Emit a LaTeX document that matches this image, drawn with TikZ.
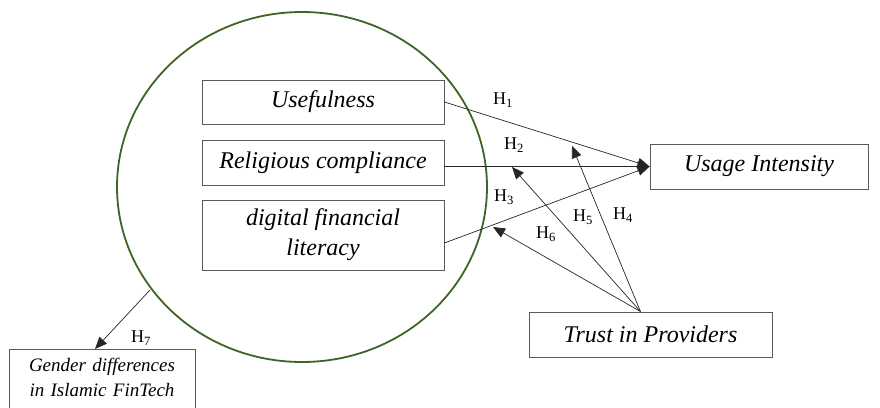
\documentclass[tikz,border=0pt]{standalone}
\usepackage{fontspec}
\setmainfont{Liberation Serif}
\usepackage{tikz}
\usetikzlibrary{arrows.meta}
\definecolor{ringgreen}{RGB}{62,100,38}
\definecolor{boxgrey}{RGB}{90,90,90}

\begin{document}
\begin{tikzpicture}
  [x=1pt,y=-1pt,
   var/.style={draw=boxgrey,line width=0.9pt,rectangle,align=center,
     inner sep=0pt,font=\fontsize{24}{30}\selectfont\itshape},
   hyp/.style={font=\fontsize{18}{20}\selectfont,inner sep=0pt},
   link/.style={draw=black!85,line width=0.7pt,-{Triangle[length=12pt,width=10pt]}}]
  \useasboundingbox (0,0) rectangle (880,407);

  % the ring around the three predictors
  \draw[ringgreen,line width=1.8pt] (302,187) ellipse [x radius=185,y radius=175];

  \node[var,minimum width=242,minimum height=44] (useful)    at (323,102)   {Usefulness};
  \node[var,minimum width=242,minimum height=45] (religious) at (323,162.5) {Religious compliance};
  \node[var,minimum width=242,minimum height=70] (literacy)  at (323,235)   {digital financial\\literacy};
  \node[var,minimum width=218,minimum height=45] (usage)     at (759,166.5) {Usage Intensity};
  \node[var,minimum width=243,minimum height=45] (trust)     at (650.5,334.5) {Trust in Providers};
  \node[var,text width=186,anchor=north,inner ysep=9pt,text depth=45pt,
        font=\fontsize{19}{25}\selectfont\itshape] (gender) at (102,349)
        {Gender differences\\in Islamic FinTech};

  \coordinate (src) at ([xshift=-10pt]trust.north);
  \coordinate (t4) at (572,146);
  \coordinate (t5) at (512,167);
  \coordinate (t6) at (493,227);
  \coordinate (c7) at (150,290);

  % direct paths
  \draw[link] (useful.east) -- (usage.west);
  \draw[link] (religious.east |- usage.west) -- (usage.west);
  \draw[link] ([yshift=-8pt]literacy.east) -- (usage.west);

  % moderating paths
  \foreach \to in {t4,t5,t6}
    \draw[link] (src) -- (\to);
  \draw[link] (c7) -- ([xshift=-7pt]gender.north);

  \node[hyp] (h1) at (503,100) {H\textsubscript{1}};
  \node[hyp] (h2) at (514,145) {H\textsubscript{2}};
  \node[hyp] (h3) at (504,197) {H\textsubscript{3}};
  \node[hyp] (h4) at (623,215) {H\textsubscript{4}};
  \node[hyp] (h5) at (583,217) {H\textsubscript{5}};
  \node[hyp] (h6) at (546,234) {H\textsubscript{6}};
  \node[hyp] (h7) at (141,338) {H\textsubscript{7}};

\end{tikzpicture}
\end{document}
